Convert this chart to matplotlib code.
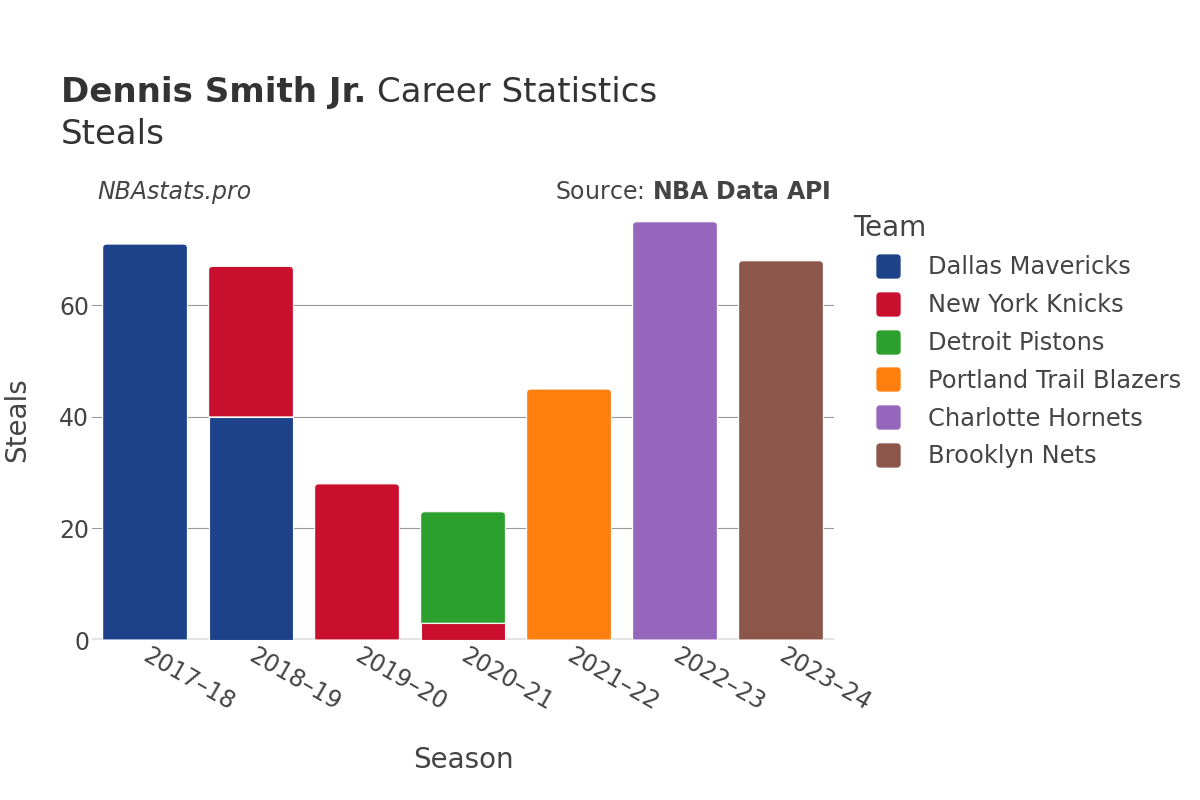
import matplotlib.pyplot as plt
from matplotlib.lines import Line2D
from matplotlib.path import Path
from matplotlib.patches import PathPatch
import numpy as np

seasons = ["2017–18", "2018–19", "2019–20", "2020–21", "2021–22", "2022–23", "2023–24"]
teams = ["Dallas Mavericks", "New York Knicks", "Detroit Pistons",
         "Portland Trail Blazers", "Charlotte Hornets", "Brooklyn Nets"]
colors = ["#1d428a", "#c8102e", "#2ca02c", "#ff7f0e", "#9467bd", "#8c564b"]

# steals per team per season (stacked in this order)
dallas = [71, 40, 0, 0, 0, 0, 0]
knicks = [0, 27, 28, 3, 0, 0, 0]
detroit = [0, 0, 0, 20, 0, 0, 0]
portland = [0, 0, 0, 0, 45, 0, 0]
charlotte = [0, 0, 0, 0, 0, 75, 0]
brooklyn = [0, 0, 0, 0, 0, 0, 68]
series = [dallas, knicks, detroit, portland, charlotte, brooklyn]

txt = "#444444"
fig = plt.figure(figsize=(12, 8), dpi=100)
ax = fig.add_axes([0.0767, 0.2, 0.6183, 0.55])
ax.set_xlim(-0.5, 6.5)
ax.set_ylim(0, 78.9)

x = np.arange(len(seasons))
bottom = np.zeros(len(seasons))
top_patch = {}
for vals, c in zip(series, colors):
    v = np.array(vals, dtype=float)
    mask = v > 0
    bars = ax.bar(x[mask], v[mask], 0.8, bottom=bottom[mask], color=c,
                  edgecolor="white", linewidth=0.8, zorder=3)
    for xi, b in zip(x[mask], bars):
        top_patch[xi] = b
    bottom += v


def round_top(rect, px=4):
    # swap the top segment for one with rounded upper corners
    x0, y0 = rect.get_x(), rect.get_y()
    w, h = rect.get_width(), rect.get_height()
    sx, sy = ax.transData.transform((1, 1)) - ax.transData.transform((0, 0))
    rx, ry = px / sx, px / sy
    x1, y1 = x0 + w, y0 + h
    verts = [(x0, y0), (x0, y1 - ry), (x0, y1), (x0 + rx, y1),
             (x1 - rx, y1), (x1, y1), (x1, y1 - ry), (x1, y0), (x0, y0)]
    codes = [Path.MOVETO, Path.LINETO, Path.CURVE3, Path.CURVE3,
             Path.LINETO, Path.CURVE3, Path.CURVE3, Path.LINETO, Path.CLOSEPOLY]
    p = PathPatch(Path(verts, codes), facecolor=rect.get_facecolor(),
                  edgecolor="white", linewidth=0.8, zorder=3)
    rect.set_visible(False)
    ax.add_patch(p)


for b in top_patch.values():
    round_top(b)

ax.set_yticks([0, 20, 40, 60])
ax.grid(axis="y", color="#999999", linewidth=0.8, zorder=0)
ax.axhline(0, color="#e5e5e5", linewidth=3, zorder=2)
for s in ax.spines.values():
    s.set_visible(False)
ax.tick_params(axis="both", length=0, labelsize=17, labelcolor=txt)
ax.tick_params(axis="x", pad=10)
ax.tick_params(axis="y", pad=2)
ax.set_xticks(x)
ax.set_xticklabels(seasons, rotation=-30, ha="left", va="center", rotation_mode="anchor")
ax.set_xlabel("Season", fontsize=20, color=txt, va="center")
ax.set_ylabel("Steals", fontsize=20, color=txt, va="center")
ax.xaxis.set_label_coords(0.5, -0.273)
ax.yaxis.set_label_coords(-0.101, 0.5)

# titles
t1 = fig.text(0.051, 0.872, "Dennis Smith Jr.", fontsize=24.5, fontweight="bold", color="#333333")
fig.canvas.draw()
bb = t1.get_window_extent()
fig.text(bb.x1 / 1200 + 0.0085, 0.872, "Career Statistics", fontsize=24.5, color="#333333")
fig.text(0.051, 0.82, "Steals", fontsize=24.5, color="#333333")
fig.text(0.081, 0.76, "NBAstats.pro", fontsize=17, style="italic", color=txt, va="center")
fig.text(0.692, 0.76, "Source: $\\bf{NBA\\ Data\\ API}$", fontsize=17, color=txt, va="center", ha="right")

# rounded square marker for the legend
r = 0.25
theta = np.linspace(0, np.pi / 2, 8)
pts = []
for cx, cy, a0 in [(1 - r, 1 - r, 0), (-1 + r, 1 - r, np.pi / 2),
                   (-1 + r, -1 + r, np.pi), (1 - r, -1 + r, 1.5 * np.pi)]:
    pts += [(cx + r * np.cos(a0 + t), cy + r * np.sin(a0 + t)) for t in theta]
pts.append(pts[0])
rsq = Path(pts, closed=True)

handles = [Line2D([], [], marker=rsq, linestyle="none", markersize=16.5,
                  markerfacecolor=c, markeredgecolor=c) for c in colors]
leg = fig.legend(handles, teams, loc="upper left", bbox_to_anchor=(0.703, 0.745),
                 frameon=False, fontsize=17.4, title="Team", title_fontsize=20,
                 labelspacing=0.57, handlelength=2.9, handletextpad=0.2, borderaxespad=0)
leg._legend_box.align = "left"
for t in leg.get_texts():
    t.set_color(txt)
leg.get_title().set_color(txt)

fig.savefig("out.png", dpi=100, facecolor="white")
